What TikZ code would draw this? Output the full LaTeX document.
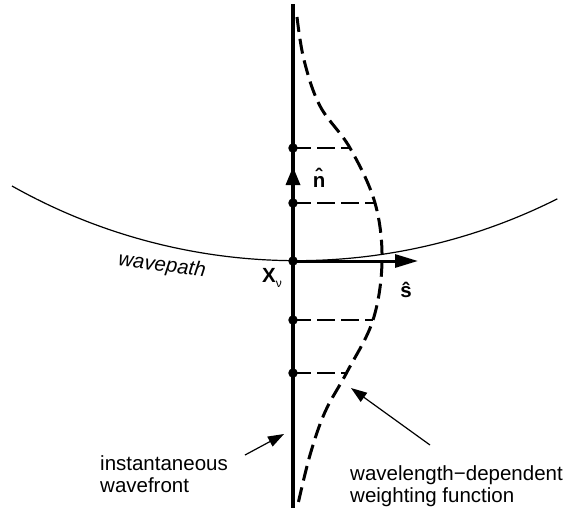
\documentclass[tikz,border=0pt]{standalone}
\usepackage{fontspec}
\setmainfont{Liberation Sans}
\usetikzlibrary{arrows.meta}
\begin{document}
\begin{tikzpicture}[x=1pt,y=-1pt,
  lbl/.style={font=\fontsize{20.5}{21.5}\selectfont, inner sep=0pt},
  wdot/.style={circle, fill=black, inner sep=0pt, minimum size=9.5pt},
  fdash/.style={line width=1.1pt, dash pattern=on 18pt off 6pt},
  wdash/.style={line width=3pt, dash pattern=on 15pt off 7pt},
  bigarrow/.style={line width=3pt, -{Triangle[length=23pt,width=13pt]}},
  callout/.style={line width=1.2pt, -{Triangle[length=16pt,width=11pt]}}]
\useasboundingbox (0,0) rectangle (577,512);
% wavepath (circular arc)
\draw[line width=1.2pt] (12,186) arc[start angle=119.4, end angle=63.3, radius=580];
% weighting function
\draw[wdash] plot[smooth, tension=0.6] coordinates {(297,17) (304,60) (320,106) (350,148) (375,203) (382,261) (373,320) (347,372) (325,412) (310,455) (298,504)};
% wavefront
\coordinate (top) at (293,4);
\coordinate (bot) at (293,508);
\draw[line width=4pt] (top) -- (bot);
\fill (293,167) -- (285.5,185) -- (300.5,185) -- cycle;
% dots
\node[wdot] (d1) at (293,148) {};
\node[wdot] (d2) at (293,203) {};
\node[wdot] (d3) at (293,261) {};
\node[wdot] (d4) at (293,320) {};
\node[wdot] (d5) at (293,373) {};
% dashed guides
\coordinate (c1) at (350,148);
\coordinate (c2) at (376,203);
\coordinate (c4) at (373,320);
\coordinate (c5) at (347,373);
\draw[fdash] (d1.center) -- (c1);
\draw[fdash] (d2.center) -- (c2);
\draw[fdash] (d4.center) -- (c4);
\draw[fdash] (d5.center) -- (c5);
% s arrow
\coordinate (stip) at (418,261);
\draw[bigarrow] (d3.center) -- (stip);
% labels
\node[lbl, anchor=base] (nh) at (321,187) {\textbf{\^{n}}};
\node[lbl, anchor=base] (sh) at (406,297) {\textbf{ŝ}};
\node[lbl, anchor=base west] (xn) at (262,282) {\textbf{X}\raisebox{-5pt}{\fontsize{12}{12}\selectfont ν}};
\node[lbl, font=\fontsize{20.5}{21.5}\selectfont\itshape, rotate=-7] (wp) at (162,266) {wavepath};
\node[lbl, anchor=base west, align=left] (iw) at (100,492) {instantaneous\\wavefront};
\node[lbl, anchor=base west, align=left] (wd) at (350,502) {wavelength−dependent\\weighting function};
% callouts
\coordinate (a1s) at (245,455);
\coordinate (a1e) at (284,434);
\coordinate (a2s) at (430,445);
\coordinate (a2e) at (351,388);
\draw[callout] (a1s) -- (a1e);
\draw[callout] (a2s) -- (a2e);
\end{tikzpicture}
\end{document}
